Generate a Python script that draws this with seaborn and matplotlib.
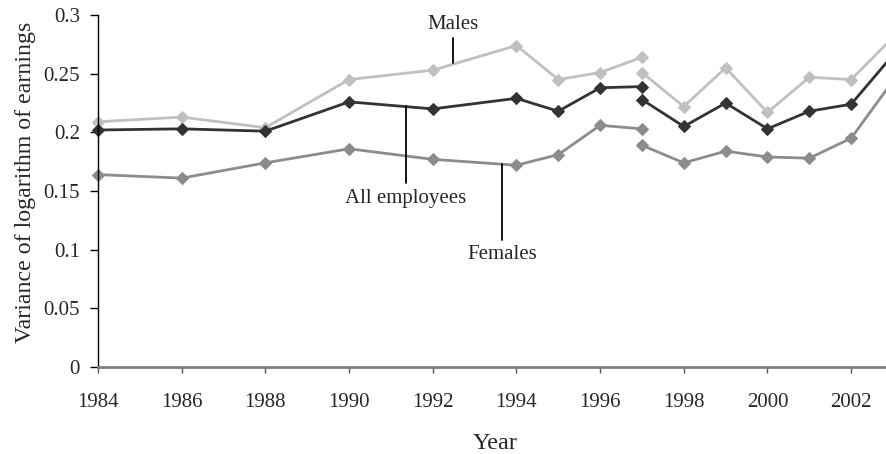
import matplotlib
matplotlib.use("Agg")
import matplotlib.pyplot as plt
import seaborn as sns
import pandas as pd

# two survey segments, break at 1997
years_a = [1984, 1986, 1988, 1990, 1992, 1994, 1995, 1996, 1997]
years_b = [1997, 1998, 1999, 2000, 2001, 2002, 2003]

males_a = [0.209, 0.213, 0.204, 0.245, 0.253, 0.274, 0.245, 0.251, 0.264]
males_b = [0.251, 0.222, 0.255, 0.217, 0.247, 0.245, 0.281]
all_a = [0.202, 0.203, 0.201, 0.226, 0.220, 0.229, 0.218, 0.238, 0.239]
all_b = [0.228, 0.205, 0.225, 0.203, 0.218, 0.224, 0.266]
females_a = [0.164, 0.161, 0.174, 0.186, 0.177, 0.172, 0.181, 0.206, 0.203]
females_b = [0.189, 0.174, 0.184, 0.179, 0.178, 0.195, 0.244]

x_ticks = [1984, 1986, 1988, 1990, 1992, 1994, 1996, 1998, 2000, 2002]
y_ticks = [0, 0.05, 0.1, 0.15, 0.2, 0.25, 0.3]
y_tick_labels = ["0", "0.05", "0.1", "0.15", "0.2", "0.25", "0.3"]

series = {
    "Males": (males_a, males_b, "#c0c0c0"),
    "All employees": (all_a, all_b, "#333333"),
    "Females": (females_a, females_b, "#8c8c8c"),
}

rows = []
for name, (va, vb, _) in series.items():
    for y, v in zip(years_a, va):
        rows.append({"year": y, "value": v, "series": name, "seg": "a"})
    for y, v in zip(years_b, vb):
        rows.append({"year": y, "value": v, "series": name, "seg": "b"})
df = pd.DataFrame(rows)

sns.set_style("ticks")
plt.rcParams["font.family"] = ["Liberation Serif", "DejaVu Serif"]

fig = plt.figure(figsize=(8.86, 4.54), dpi=100)
ax = fig.add_axes([0.1106, 0.1916, 0.8973, 0.7753])

for name, (_, _, color) in series.items():
    for seg in ["a", "b"]:
        d = df[(df["series"] == name) & (df["seg"] == seg)]
        sns.lineplot(data=d, x="year", y="value", ax=ax, color=color,
                     marker="D", markersize=6.5, markeredgecolor=color,
                     linewidth=2, estimator=None, clip_on=False)

ax.set_xlim(1984, 2003)
ax.set_ylim(0, 0.3)
ax.set_xticks(x_ticks)
ax.set_xticklabels([str(t) for t in x_ticks], fontsize=15)
ax.set_yticks(y_ticks)
ax.set_yticklabels(y_tick_labels, fontsize=15)
ax.tick_params(axis="x", direction="out", length=4, width=1, color="#555555", pad=14.5)
ax.tick_params(axis="y", direction="out", length=6, width=1, color="black", pad=7)

ax.set_xlabel("Year", fontsize=17.5)
ax.xaxis.set_label_coords(0.5, -0.187)
ax.set_ylabel("Variance of logarithm of earnings", fontsize=17.2)
ax.yaxis.set_label_coords(-0.078, 0.524)

sns.despine(ax=ax, top=True, right=True)
ax.spines["left"].set_linewidth(1)
ax.spines["left"].set_color("black")
ax.spines["bottom"].set_linewidth(2)
ax.spines["bottom"].set_color("#808080")

# leader-line labels
labels = [
    ("Males", 1992.48, 0.2804, 0.2591, 0.2923),
    ("All employees", 1991.35, 0.2224, 0.1568, 0.1440),
    ("Females", 1993.65, 0.1730, 0.1082, 0.0963),
]
for text, lx, y0, y1, ty in labels:
    ax.plot([lx, lx], [y0, y1], color="black", linewidth=1.3)
    ax.text(lx, ty, text, ha="center", va="center", fontsize=15)

ax.legend_ = None
fig.savefig("out.png", dpi=100)
